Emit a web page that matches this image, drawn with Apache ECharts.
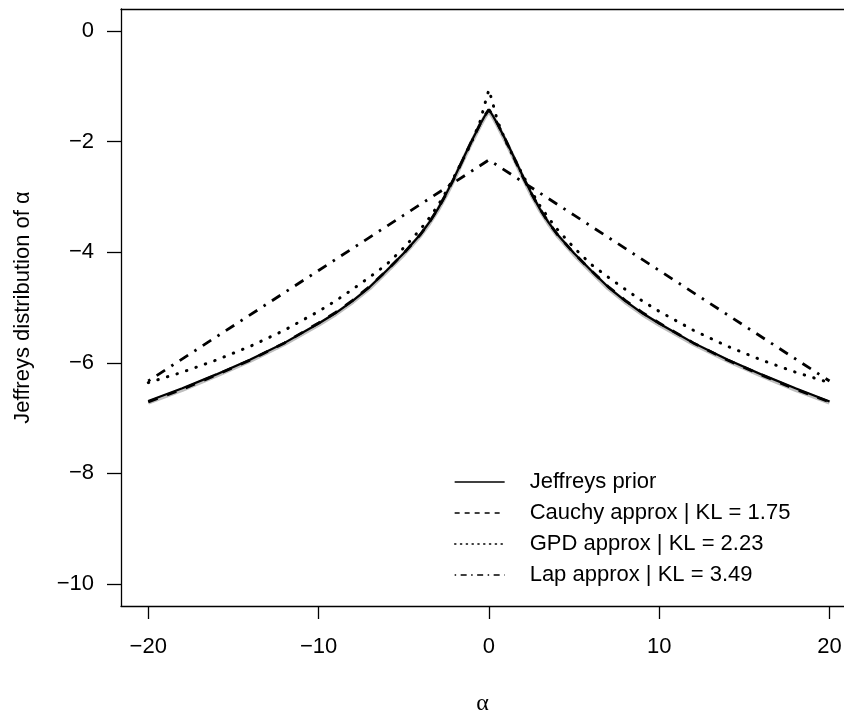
<!DOCTYPE html>
<html>
<head>
<meta charset="utf-8">
<script src="https://cdn.jsdelivr.net/npm/echarts@6/dist/echarts.min.js"></script>
<style>
    html, body { margin: 0; padding: 0; background: #fff; }
    #main { width: 844px; height: 711px; }
</style>
</head>
<body>
<div id="main"></div>
<script>
// alpha positions
var alpha = [-20, -18, -16, -14, -12, -10, -9, -8, -7, -6, -5, -4, -3.5, -3, -2.5, -2, -1.5, -1, -0.5, -0.25, 0,
    0.25, 0.5, 1, 1.5, 2, 2.5, 3, 3.5, 4, 5, 6, 7, 8, 9, 10, 12, 14, 16, 18, 20];
var jeffreys = [-6.69, -6.46, -6.21, -5.94, -5.64, -5.29, -5.10, -4.88, -4.63, -4.33, -4.02, -3.67, -3.46, -3.22, -2.94, -2.63, -2.30, -1.98, -1.68, -1.54, -1.42,
    -1.54, -1.68, -1.98, -2.30, -2.63, -2.94, -3.22, -3.46, -3.67, -4.02, -4.33, -4.63, -4.88, -5.10, -5.29, -5.64, -5.94, -6.21, -6.46, -6.70];
var cauchy = [-6.71, -6.48, -6.22, -5.95, -5.64, -5.28, -5.09, -4.87, -4.62, -4.33, -4.02, -3.67, -3.46, -3.22, -2.94, -2.64, -2.31, -1.98, -1.67, -1.53, -1.42,
    -1.53, -1.67, -1.98, -2.31, -2.64, -2.94, -3.22, -3.46, -3.67, -4.02, -4.33, -4.62, -4.87, -5.09, -5.28, -5.64, -5.95, -6.22, -6.48, -6.71];
// grey curve underneath (no legend entry)
var greyRef = [-6.72, -6.49, -6.23, -5.96, -5.66, -5.31, -5.12, -4.90, -4.65, -4.35, -4.04, -3.69, -3.48, -3.24, -2.96, -2.65, -2.32, -2.00, -1.70, -1.56, -1.44,
    -1.56, -1.70, -2.00, -2.32, -2.65, -2.96, -3.24, -3.48, -3.69, -4.04, -4.35, -4.65, -4.90, -5.12, -5.31, -5.66, -5.96, -6.23, -6.49, -6.72];
var gpd = [-6.36, -6.17, -5.95, -5.70, -5.41, -5.07, -4.88, -4.67, -4.45, -4.22, -3.92, -3.58, -3.38, -3.16, -2.90, -2.61, -2.31, -2.00, -1.62, -1.33, -1.06,
    -1.33, -1.62, -2.00, -2.31, -2.61, -2.90, -3.16, -3.38, -3.58, -3.92, -4.22, -4.45, -4.67, -4.88, -5.07, -5.41, -5.70, -5.95, -6.17, -6.36];
var lapAlpha = [-20, -15, -10, -5, 0, 5, 10, 15, 20];
var lap = [-6.33, -5.33, -4.33, -3.33, -2.33, -3.33, -4.33, -5.33, -6.33];

var xTicks = [-20, -10, 0, 10, 20];
var yTicks = [0, -2, -4, -6, -8, -10];
var legendNames = ['Jeffreys prior', 'Cauchy approx | KL = 1.75', 'GPD approx | KL = 2.23', 'Lap approx | KL = 3.49'];

var FONT = 'Liberation Sans';
var X_MIN = -21.6, X_MAX = 20.85;

function pairs(xs, ys) {
    var out = [];
    for (var i = 0; i < xs.length; i++) {
        out.push([xs[i], ys[i]]);
    }
    return out;
}

// R style minus sign
function fmt(v) {
    return v < 0 ? '\u2212' + Math.abs(v) : '' + v;
}

function lineSeries(name, data, width, type, color, cap) {
    return {
        name: name,
        type: 'line',
        data: data,
        symbol: 'none',
        smooth: false,
        silent: true,
        animation: false,
        itemStyle: {color: color || '#000'},
        lineStyle: {
            color: color || '#000',
            width: width,
            type: type,
            cap: cap || 'butt'
        }
    };
}

var chart = echarts.init(document.getElementById('main'), null, {renderer: 'canvas'});

var axisLineStyle = {color: '#000', width: 1.3};

var option = {
    backgroundColor: '#fff',
    animation: false,
    grid: {
        left: 121,
        top: 9,
        right: 0,
        bottom: 105,
        outerBoundsMode: 'none',
        containLabel: false
    },
    xAxis: [{
        type: 'value',
        min: X_MIN,
        max: X_MAX,
        splitLine: {show: false},
        axisLine: {show: true, onZero: false, lineStyle: axisLineStyle},
        axisTick: {show: true, length: 13, lineStyle: axisLineStyle, customValues: xTicks},
        axisLabel: {
            customValues: xTicks,
            formatter: fmt,
            margin: 30,
            color: '#000',
            fontSize: 22,
            fontFamily: FONT
        },
        name: 'α',
        nameLocation: 'middle',
        nameGap: 86,
        nameTextStyle: {color: '#000', fontSize: 24, fontFamily: 'Liberation Serif'}
    }, {
        // top side of the box
        type: 'value',
        position: 'top',
        min: X_MIN,
        max: X_MAX,
        splitLine: {show: false},
        axisLine: {show: true, onZero: false, lineStyle: axisLineStyle},
        axisTick: {show: false},
        axisLabel: {show: false}
    }],
    yAxis: {
        type: 'value',
        min: -10.4,
        max: 0.4,
        splitLine: {show: false},
        axisLine: {show: true, onZero: false, lineStyle: axisLineStyle},
        axisTick: {show: true, length: 14, lineStyle: axisLineStyle, customValues: yTicks},
        axisLabel: {
            customValues: yTicks,
            formatter: fmt,
            margin: 27,
            color: '#000',
            fontSize: 22,
            fontFamily: FONT
        },
        name: 'Jeffreys distribution of α',
        nameLocation: 'middle',
        nameGap: 87,
        nameTextStyle: {color: '#000', fontSize: 22, fontFamily: FONT}
    },
    legend: {
        orient: 'vertical',
        left: 454,
        top: 471,
        itemWidth: 50,
        itemHeight: 14,
        itemGap: 9,
        padding: 0,
        itemStyle: {opacity: 0},
        textStyle: {color: '#000', fontSize: 22, fontFamily: FONT, padding: [0, 0, 0, 20]},
        data: [
            {name: legendNames[0], lineStyle: {width: 1.3, type: 'solid', color: '#000'}},
            {name: legendNames[1], lineStyle: {width: 1.3, type: [5, 5], color: '#000'}},
            {name: legendNames[2], lineStyle: {width: 1.3, type: [1.3, 4.5], color: '#000'}},
            {name: legendNames[3], lineStyle: {width: 1.3, type: [1.5, 4.5, 6, 4.5], color: '#000'}}
        ]
    },
    series: [
        lineSeries('grey', pairs(alpha, greyRef), 4.2, 'solid', '#bebebe'),
        lineSeries(legendNames[0], pairs(alpha, jeffreys), 2.2, 'solid'),
        lineSeries(legendNames[1], pairs(alpha, cauchy), 2.8, [10, 10]),
        lineSeries(legendNames[2], pairs(alpha, gpd), 3, [0.5, 9.5], '#000', 'round'),
        lineSeries(legendNames[3], pairs(lapAlpha, lap), 2.8, [2.5, 7.5, 10, 7.5])
    ]
};

chart.setOption(option);
</script>
</body>
</html>
